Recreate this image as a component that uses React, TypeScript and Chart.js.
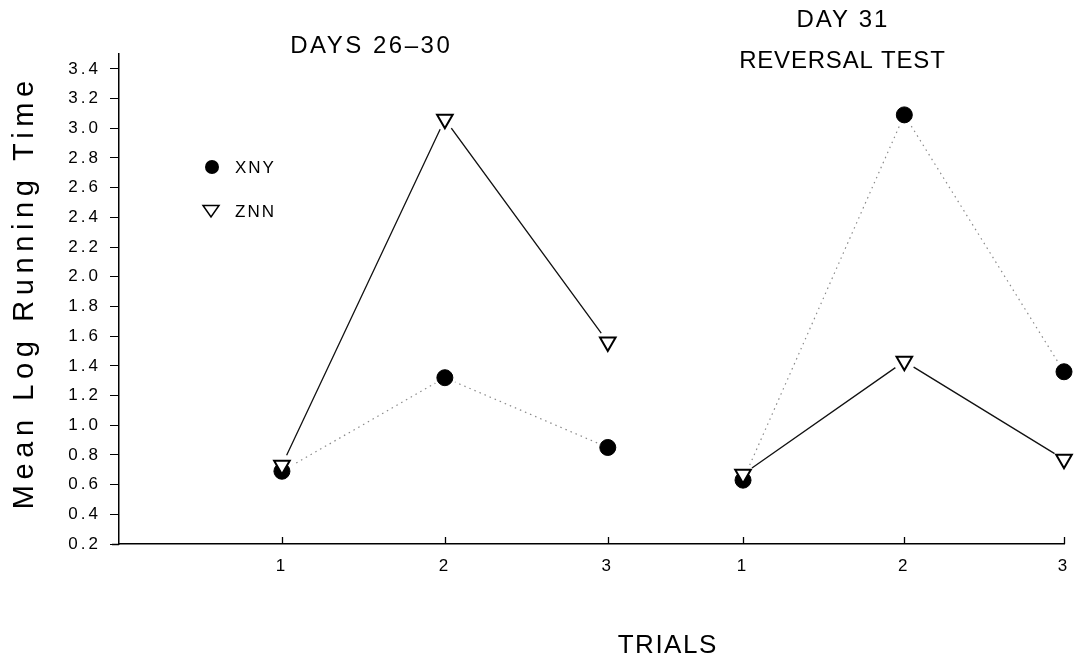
import React, { useEffect, useRef } from "react";
import { Chart, registerables } from "chart.js";

Chart.register(...registerables);

// ---- data ----
const trialLabels = ["1", "2", "3", "1", "2", "3"];
const trialPositions = [1, 2, 3, 3.83, 4.82, 5.8];
const yTickValues = [0.2, 0.4, 0.6, 0.8, 1.0, 1.2, 1.4, 1.6, 1.8, 2.0, 2.2, 2.4, 2.6, 2.8, 3.0, 3.2, 3.4];
const seriesNames = ["XNY", "ZNN"];
const phaseTitles = ["DAYS 26\u201330", "DAY 31", "REVERSAL TEST"];
const xAxisTitle = "TRIALS";
const yAxisTitle = "Mean Log Running Time";

const xnyDays26to30 = [0.69, 1.32, 0.85];
const znnDays26to30 = [0.73, 3.06, 1.56];
const xnyReversal = [0.63, 3.09, 1.36];
const znnReversal = [0.67, 1.43, 0.77];

const FONT = "'Liberation Sans', Arial, sans-serif";

function pts(values: number[], positions: number[]) {
  return values.map((v, i) => ({ x: positions[i], y: v }));
}

export default function App() {
  const ref = useRef<HTMLCanvasElement | null>(null);

  useEffect(() => {
    document.body.style.margin = "0";
    const canvas = ref.current;
    if (!canvas) return;

    const pos1 = trialPositions.slice(0, 3);
    const pos2 = trialPositions.slice(3, 6);
    const xny1 = pts(xnyDays26to30, pos1);
    const znn1 = pts(znnDays26to30, pos1);
    const xny2 = pts(xnyReversal, pos2);
    const znn2 = pts(znnReversal, pos2);

    const dotted = (data: any[]) => ({
      data,
      showLine: true,
      borderColor: "#8a8a8a",
      borderWidth: 1.2,
      borderDash: [1.5, 4],
      pointRadius: 0,
      order: 3,
      clip: false as any,
    });
    const solid = (data: any[]) => ({
      data,
      showLine: true,
      borderColor: "#111",
      borderWidth: 1.3,
      pointRadius: 0,
      order: 3,
      clip: false as any,
    });
    const halo = (data: any[]) => ({
      data,
      showLine: false,
      pointStyle: "circle",
      pointRadius: 11,
      pointBackgroundColor: "#fff",
      pointBorderColor: "#fff",
      pointBorderWidth: 0,
      order: 2,
      clip: false as any,
    });
    const circles = (data: any[]) => ({
      data,
      showLine: false,
      pointStyle: "circle",
      pointRadius: 8,
      pointBackgroundColor: "#000",
      pointBorderColor: "#000",
      pointBorderWidth: 1,
      order: 1,
      clip: false as any,
    });
    const triangles = (data: any[]) => ({
      data,
      showLine: false,
      pointStyle: "triangle",
      pointRotation: 180,
      pointRadius: 9,
      pointBackgroundColor: "#fff",
      pointBorderColor: "#000",
      pointBorderWidth: 2,
      order: 0,
      clip: false as any,
    });

    const decor = {
      id: "decor",
      beforeDraw(chart: any) {
        chart.ctx.letterSpacing = "3px";
      },
      afterDraw(chart: any) {
        const ctx = chart.ctx as CanvasRenderingContext2D;
        const area = chart.chartArea;
        const xs = chart.scales.x;
        ctx.save();
        (ctx as any).letterSpacing = "0px";
        ctx.strokeStyle = "#000";
        ctx.lineWidth = 1.3;
        // inward x ticks
        ctx.beginPath();
        trialPositions.forEach((v) => {
          const px = Math.round(xs.getPixelForValue(v)) + 0.5;
          ctx.moveTo(px, area.bottom);
          ctx.lineTo(px, area.bottom - 7);
        });
        // axis stub left of y axis
        ctx.moveTo(area.left - 7, area.bottom + 0.5);
        ctx.lineTo(area.left, area.bottom + 0.5);
        ctx.stroke();

        const drawText = (t: string, x: number, y: number, size: number, sp: number) => {
          (ctx as any).letterSpacing = sp + "px";
          ctx.font = `${size}px ${FONT}`;
          ctx.fillStyle = "#000";
          ctx.textAlign = "center";
          ctx.textBaseline = "alphabetic";
          ctx.fillText(t, x + sp / 2, y);
        };
        drawText(phaseTitles[0], 370, 53, 24, 2.5);
        drawText(phaseTitles[1], 842, 27, 24, 2);
        drawText(phaseTitles[2], 842, 68, 24, 0.8);
        drawText(xAxisTitle, 667, 653, 26, 1.5);

        // y axis title
        ctx.save();
        ctx.translate(33, 295);
        ctx.rotate(-Math.PI / 2);
        drawText(yAxisTitle, 0, 0, 29, 5.6);
        ctx.restore();

        // legend
        ctx.fillStyle = "#000";
        ctx.beginPath();
        ctx.arc(212, 167, 7, 0, Math.PI * 2);
        ctx.fill();
        ctx.beginPath();
        ctx.moveTo(203, 205.5);
        ctx.lineTo(219, 205.5);
        ctx.lineTo(211, 217);
        ctx.closePath();
        ctx.lineWidth = 1.5;
        ctx.stroke();
        (ctx as any).letterSpacing = "2px";
        ctx.font = `17px ${FONT}`;
        ctx.textAlign = "left";
        ctx.textBaseline = "alphabetic";
        ctx.fillText(seriesNames[0], 235, 173);
        ctx.fillText(seriesNames[1], 235, 217);
        ctx.restore();
      },
    };

    const chart = new Chart(canvas, {
      type: "scatter",
      data: {
        datasets: [
          triangles(znn1),
          triangles(znn2),
          circles(xny1),
          circles(xny2),
          halo(xny1),
          halo(xny2),
          halo(znn1),
          halo(znn2),
          dotted(xny1),
          dotted(xny2),
          solid(znn1),
          solid(znn2),
        ] as any,
      },
      options: {
        responsive: false,
        devicePixelRatio: 1,
        animation: false,
        layout: { padding: { top: 54, right: 7, left: 0, bottom: 0 } },
        plugins: {
          legend: { display: false },
          tooltip: { enabled: false },
          title: { display: false },
        },
        scales: {
          x: {
            type: "linear",
            position: "bottom",
            min: 0,
            max: 5.8,
            afterBuildTicks: (s: any) => {
              s.ticks = trialPositions.map((v) => ({ value: v }));
            },
            afterFit: (s: any) => {
              s.height = 113;
              s.paddingLeft = 0;
              s.paddingRight = 0;
            },
            ticks: {
              autoSkip: false,
              maxRotation: 0,
              padding: 12,
              color: "#000",
              font: { family: FONT, size: 17 },
              callback: (_v: any, i: number) => trialLabels[i],
            },
            grid: { display: true, drawOnChartArea: false, drawTicks: false },
            border: { display: true, color: "#000", width: 1.5 },
          },
          y: {
            type: "linear",
            min: 0.2,
            max: 3.5,
            afterBuildTicks: (s: any) => {
              s.ticks = yTickValues.map((v) => ({ value: v }));
            },
            afterFit: (s: any) => {
              s.width = 119;
            },
            ticks: {
              padding: 9,
              color: "#000",
              font: { family: FONT, size: 17 },
              callback: (v: any) => Number(v).toFixed(1),
            },
            grid: {
              display: true,
              drawOnChartArea: false,
              drawTicks: true,
              tickLength: 9,
              color: "#000",
              lineWidth: 1,
            },
            border: { display: true, color: "#000", width: 1.5 },
          },
        },
      },
      plugins: [decor],
    });

    return () => chart.destroy();
  }, []);

  return <canvas ref={ref} width={1075} height={657} style={{ display: "block" }} />;
}
